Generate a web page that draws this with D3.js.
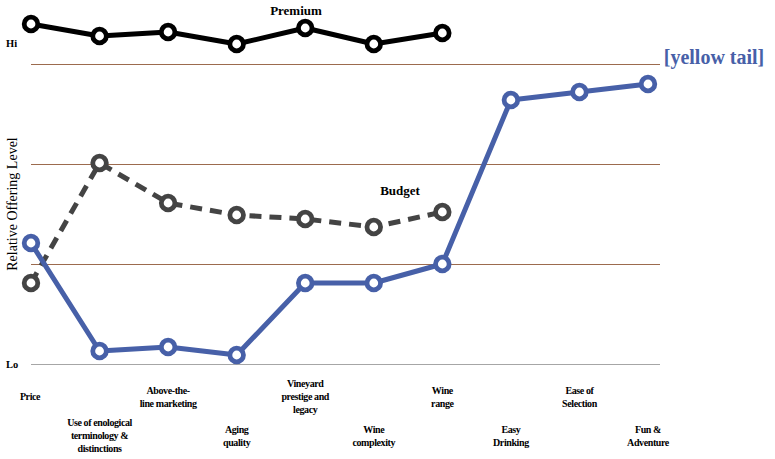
<!DOCTYPE html>
<html><head><meta charset="utf-8">
<script src="https://cdn.jsdelivr.net/npm/d3@7"></script>
<style>body{margin:0;background:#fff}svg{display:block}text{font-family:"Liberation Serif",serif}</style>
</head><body>
<script>
const categories = ["Price","Use of enological|terminology &|distinctions","Above-the-|line marketing","Aging|quality","Vineyard|prestige and|legacy","Wine|complexity","Wine|range","Easy|Drinking","Ease of|Selection","Fun &|Adventure"];
const yellowTail = [1.21,0.13,0.17,0.09,0.81,0.81,1.0,2.64,2.72,2.80];
const budget = [0.81,2.01,1.61,1.49,1.45,1.37,1.52];
const premium = [3.40,3.28,3.32,3.20,3.36,3.20,3.31];
const gridValues = [1,2,3];
const axisLabels = [{t:"Hi",v:3.21},{t:"Lo",v:0}];

const W=775,H=459;
const svg=d3.select("body").append("svg").attr("width",W).attr("height",H);
const x=d3.scalePoint().domain(categories).range([31,648]);
const y=d3.scaleLinear().domain([0,3]).range([364,64]);

svg.selectAll(".grid").data(gridValues).enter().append("line")
  .attr("x1",31).attr("x2",660).attr("y1",d=>y(d)+0.5).attr("y2",d=>y(d)+0.5)
  .attr("stroke","#9c6b4e").attr("stroke-width",1);
svg.append("line").attr("x1",31).attr("x2",660).attr("y1",y(0)+0.5).attr("y2",y(0)+0.5)
  .attr("stroke","#a6a6a6").attr("stroke-width",1);

svg.selectAll(".hl").data(axisLabels).enter().append("text")
  .attr("x",6).attr("y",d=>y(d.v)+4).text(d=>d.t)
  .attr("font-weight","bold").attr("font-size",10.5);

svg.append("text").attr("transform","translate(17,204) rotate(-90)")
  .attr("text-anchor","middle").attr("font-size",14)
  .text("Relative Offering Level");

const lab=svg.selectAll(".cat").data(categories).enter().append("text")
  .attr("text-anchor","middle").attr("font-weight","bold")
  .attr("font-size",10).attr("letter-spacing",-0.4);
lab.each(function(d,i){
  const lines=d.split("|");
  const center = i%2===0 ? 397 : 436;
  const lh=13;
  const y0=center-(lines.length-1)*lh/2+3;
  d3.select(this).selectAll("tspan").data(lines).enter().append("tspan")
    .attr("x",x(d)+(i===0?-1:0)).attr("y",(l,j)=>y0+j*lh).text(l=>l);
});

const line=d3.line().x((d,i)=>x(categories[i])).y(d=>y(d));
function series(data,color,dash){
  svg.append("path").datum(data).attr("d",line).attr("fill","none")
    .attr("stroke",color).attr("stroke-width",5).attr("stroke-linejoin","round")
    .attr("stroke-dasharray",dash||null);
  svg.append("g").selectAll("circle").data(data).enter().append("circle")
    .attr("cx",(d,i)=>x(categories[i])).attr("cy",d=>y(d)).attr("r",6.8)
    .attr("fill","#fff").attr("stroke",color).attr("stroke-width",4.8);
}
series(premium,"#000");
series(budget,"#444444","12,8");
series(yellowTail,"#4760a8");

svg.append("text").attr("x",296).attr("y",15).attr("text-anchor","middle")
  .attr("font-weight","bold").attr("font-size",13).text("Premium");
svg.append("text").attr("x",400).attr("y",195).attr("text-anchor","middle")
  .attr("font-weight","bold").attr("font-size",13).text("Budget");
svg.append("text").attr("x",714).attr("y",64).attr("text-anchor","middle")
  .attr("font-weight","bold").attr("font-size",20)
  .attr("fill","#4760a8").text("[yellow tail]");
</script>
</body></html>
